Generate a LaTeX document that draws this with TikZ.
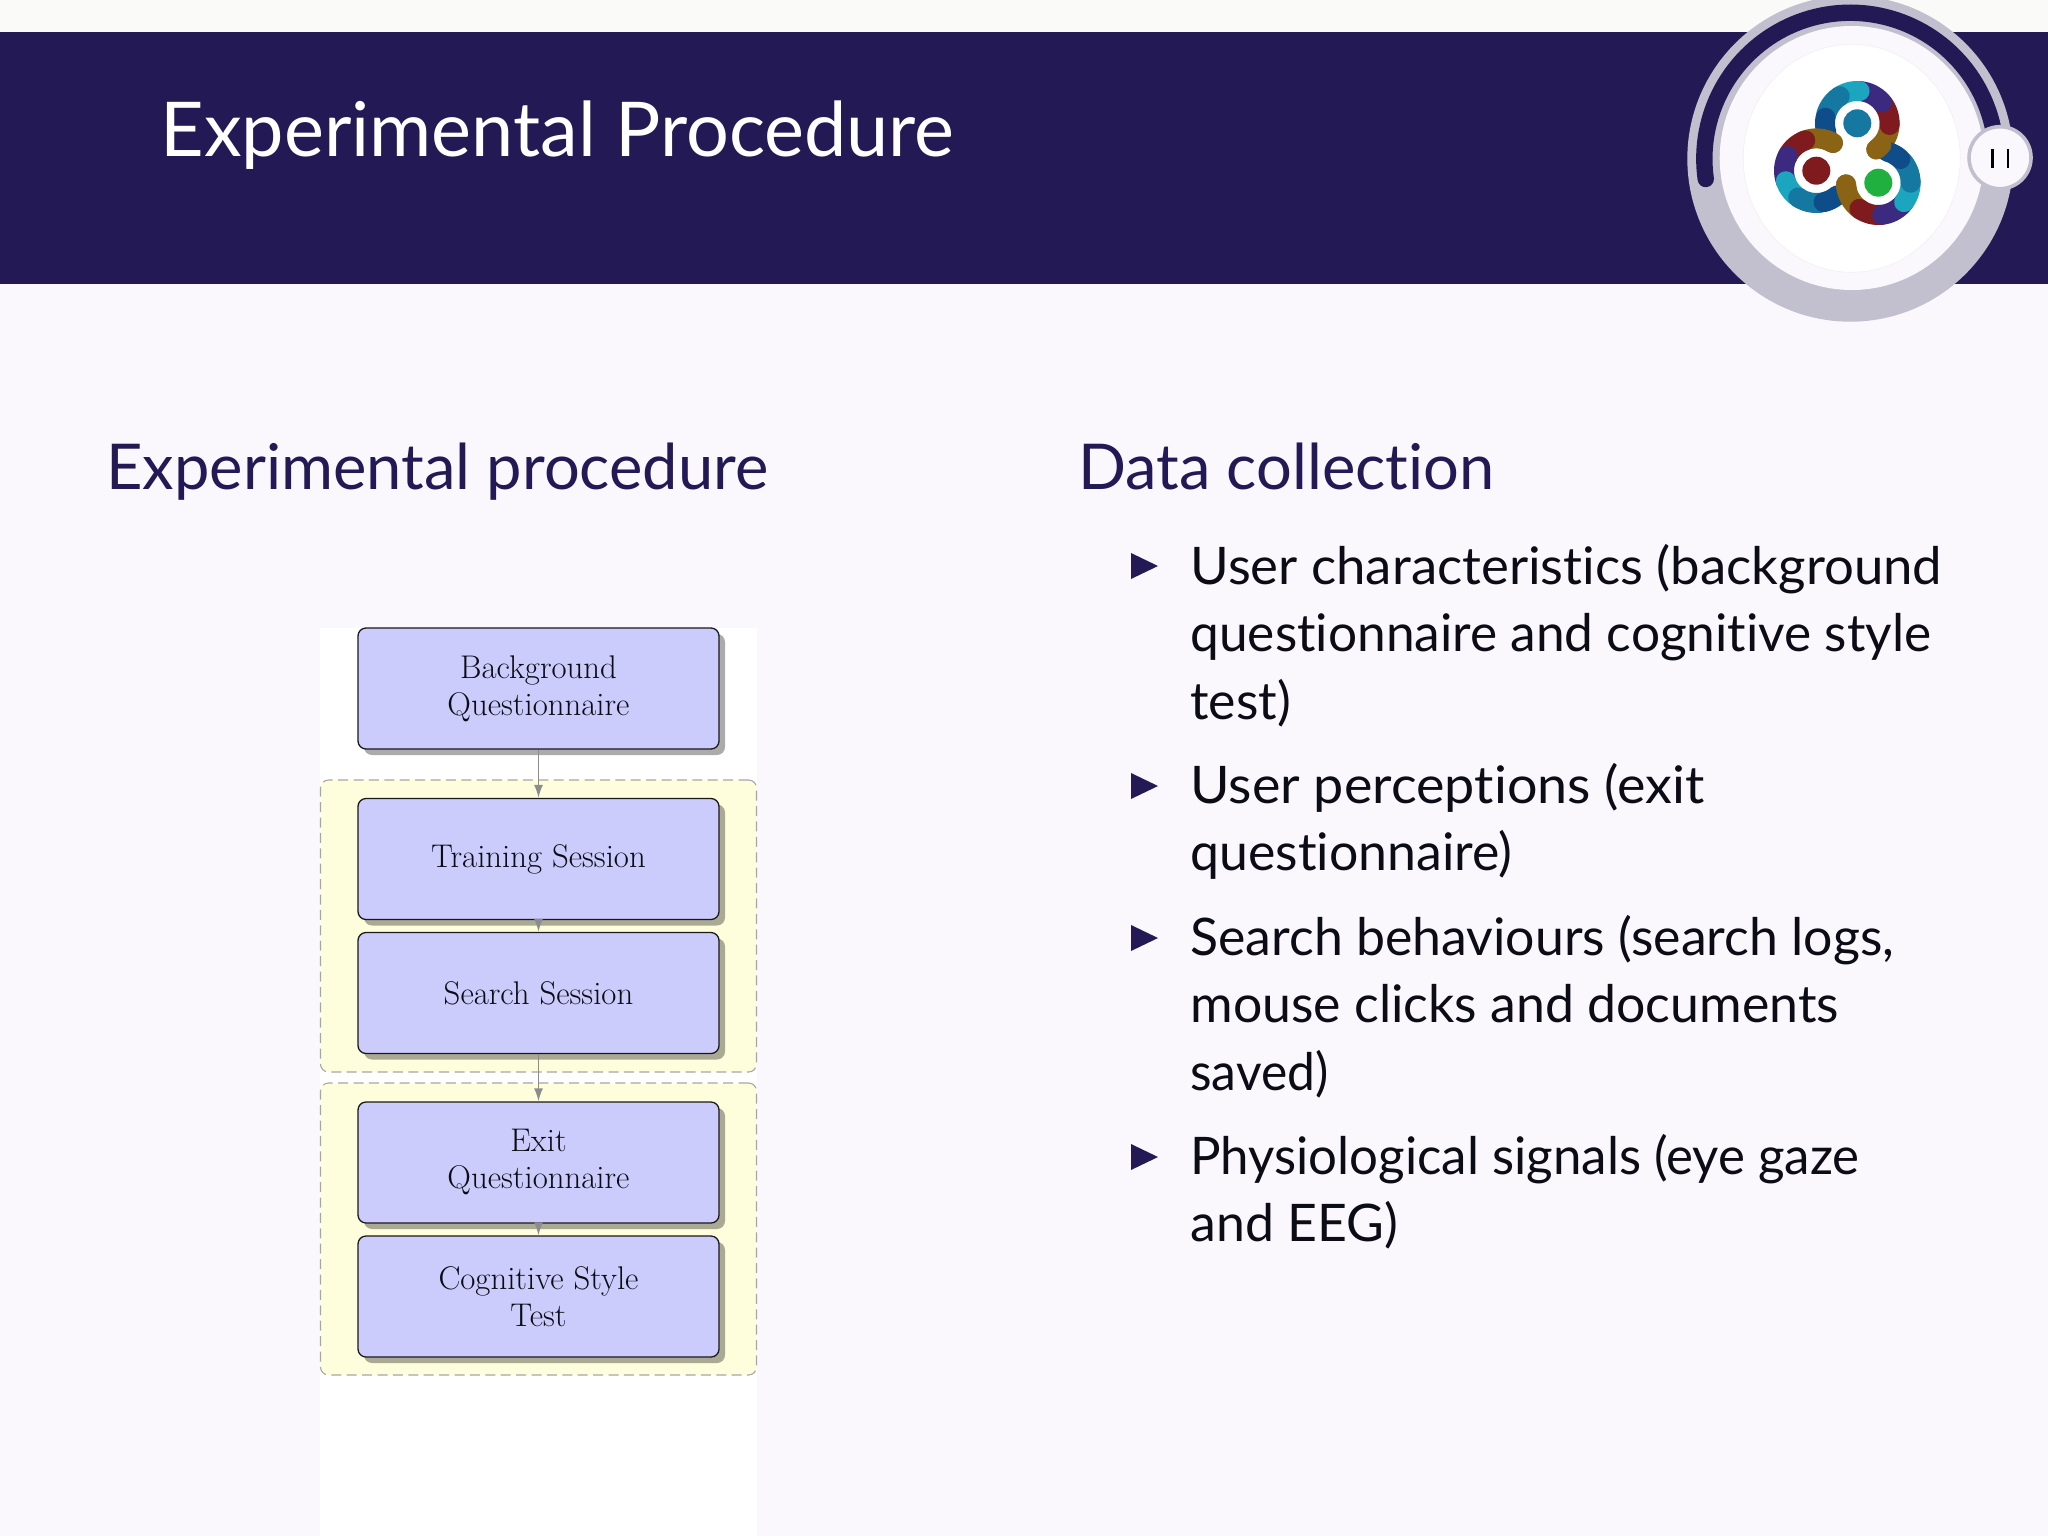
\documentclass[tikz,border=0pt]{standalone}
\usepackage{fontspec}
\usepackage{graphicx}
\setmainfont{Latin Modern Roman}
\newfontfamily\slidefont[Ligatures=NoCommon]{Lato}
\usetikzlibrary{shadows,arrows.meta}
\definecolor{bannerblue}{HTML}{231A55}
\definecolor{pagebg}{HTML}{FAF8FC}
\definecolor{toppage}{HTML}{FAFAF8}
\definecolor{ringgray}{HTML}{C2C0CF}
\definecolor{boxblue}{HTML}{CCCCFC}
\definecolor{groupyellow}{HTML}{FEFEDD}
\definecolor{bodyink}{HTML}{0C0C16}
\definecolor{lgdkblue}{HTML}{0F4C8A}
\definecolor{lgmdblue}{HTML}{1478A0}
\definecolor{lgcyan}{HTML}{1BA5BE}
\definecolor{lgpurple}{HTML}{3B2A80}
\definecolor{lgred}{HTML}{7F1A1E}
\definecolor{lgbrown}{HTML}{8A6414}
\definecolor{lggreen}{HTML}{1FB040}
\tikzset{
  stepbox/.style={draw=black!90,line width=.65pt,fill=boxblue,rounded corners=4pt,
    minimum width=180.5pt,minimum height=60.5pt,inner sep=0pt,align=center,
    text=bodyink,font=\fontsize{16.4}{18.5}\selectfont,
    drop shadow={shadow xshift=3pt,shadow yshift=-3pt,fill=black,opacity=.33}},
  groupbox/.style={draw=black!35,dash pattern=on 5pt off 2.7pt,line width=.55pt,fill=groupyellow,rounded corners=4pt,
    minimum width=218pt,inner sep=0pt},
  flow/.style={draw=black!45,line width=.8pt,-{Latex[length=6.5pt,width=4.5pt]}},
  slidetitle/.style={anchor=base west,text=white,inner sep=0pt,font=\slidefont\fontsize{37.8}{42}\selectfont},
  heading/.style={anchor=base west,text=bannerblue,inner sep=0pt,font=\slidefont\fontsize{31.6}{36}\selectfont},
  bodyline/.style={anchor=base west,text=bodyink,inner sep=0pt,font=\slidefont\fontsize{25.9}{30}\selectfont}
}
\begin{document}
\begin{tikzpicture}[x=.5pt,y=-.5pt]
\useasboundingbox (0,0) rectangle (2048,1536);
\clip (0,0) rectangle (2048,1536);
\fill[pagebg] (0,0) rectangle (2048,1536);
\fill[toppage] (0,0) rectangle (2048,32);
\fill[bannerblue] (0,32) rectangle (2048,284);
% white panel
\fill[white] (320,628) rectangle (757,1536);
% groups
\node[groupbox,minimum height=146pt] (groupa) at (538.5,926) {};
\node[groupbox,minimum height=146pt] (groupb) at (538.5,1229) {};
% boxes
\node[stepbox] (background) at (538.5,688.5) {Background\\Questionnaire};
\node[stepbox] (training) at (538.5,859) {Training Session};
\node[stepbox] (search) at (538.5,993) {Search Session};
\node[stepbox] (exit) at (538.5,1162.5) {Exit\\Questionnaire};
\node[stepbox] (cognitive) at (538.5,1296.5) {Cognitive Style\\Test};
\draw[flow] (background) -- (training);
\draw[flow] (training) -- (search);
\draw[flow] (search) -- (exit);
\draw[flow] (exit) -- (cognitive);
% title and headings
\node[slidetitle] (title) at (160,156.5) {Experimental Procedure};
\node[heading] (hleft) at (106,489.5) {Experimental procedure};
\node[heading] (hright) at (1078,489.5) {Data collection};
% bullets
\foreach \yy in {566,786,938,1157}{
  \fill[bannerblue] (1131,\yy-13) -- (1158,\yy) -- (1131,\yy+13) -- cycle;
}
\node[bodyline] (l1) at (1190,584) {\scalebox{1.018}[1]{User characteristics (background}};
\node[bodyline] (l2) at (1190,651.5) {\scalebox{.993}[1]{questionnaire and cognitive style}};
\node[bodyline] (l3) at (1190,719) {test)};
\node[bodyline] (l4) at (1190,803) {\scalebox{1.04}[1]{User perceptions (exit}};
\node[bodyline] (l5) at (1190,870.5) {questionnaire)};
\node[bodyline] (l6) at (1190,955) {Search behaviours (search logs,};
\node[bodyline] (l7) at (1190,1022.5) {mouse clicks and documents};
\node[bodyline] (l8) at (1190,1090) {\scalebox{.96}[1]{saved)}};
\node[bodyline] (l9) at (1190,1174) {\scalebox{.985}[1]{Physiological signals (eye gaze}};
\node[bodyline] (l10) at (1190,1241) {and EEG)};
% player disc
\fill[ringgray] (1850.3,158.7) circle[radius=163];
\draw[bannerblue,line width=8.2pt,line cap=round] plot[domain=188:8,samples=80]
  ({1850.3+146*cos(\x)},{158.7-146*sin(\x)});
\fill[pagebg] (1851.7,158) circle[radius=132];
\filldraw[fill=white,draw=black!6,line width=.3pt] (1851.7,158.3) ellipse[x radius=108.5,y radius=114];
% logo rings
\foreach \cx/\cy/\rot in {1857.3/123.3/0,1816.3/170.7/113,1878.3/182.7/237}{
  \foreach \aa/\bb/\cc in {-54/0/lgbrown,-3/40/lgred,40/86/lgpurple,86/125/lgcyan,123/165/lgmdblue,170/197/lgdkblue}{
    \draw[\cc,line width=10pt,line cap=round] plot[domain=\aa:\bb,samples=12]
      ({\cx+32.3*cos(\x+\rot)},{\cy-32.3*sin(\x+\rot)});
  }
}
\foreach \cx/\cy/\rot in {1857.3/123.3/0,1816.3/170.7/113,1878.3/182.7/237}{
  \draw[lgbrown,line width=10pt,line cap=round] plot[domain=-54:-42,samples=4]
      ({\cx+32.3*cos(\x+\rot)},{\cy-32.3*sin(\x+\rot)});
}
\fill[lgmdblue] (1857.3,123.3) circle[radius=14];
\fill[lgred] (1816.3,170.7) circle[radius=14];
\fill[lggreen] (1878.3,182.7) circle[radius=14];
% pause button
\draw[ringgray,fill=pagebg,line width=1.8pt] (2000,157.7) circle[radius=31];
\draw[black,line width=1.2pt] (1992.3,149) -- (1992.3,167.7);
\draw[black,line width=1.2pt] (2007.7,149) -- (2007.7,167.7);
\end{tikzpicture}
\end{document}
